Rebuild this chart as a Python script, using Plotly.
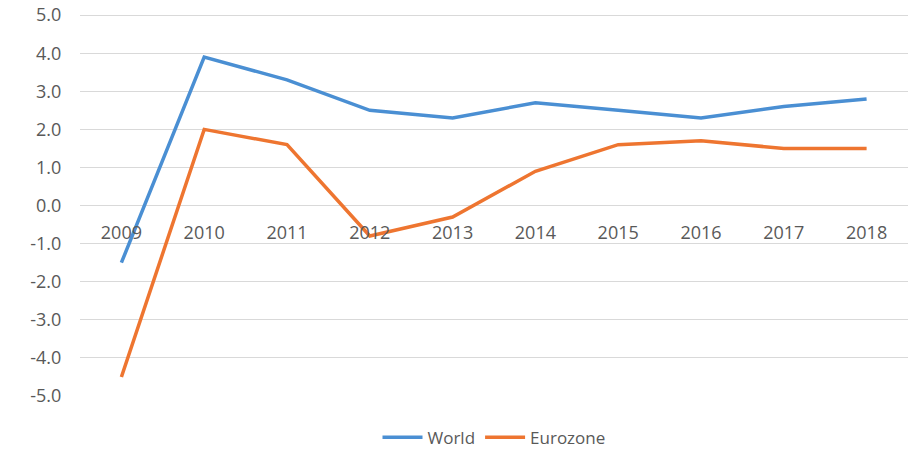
import plotly.graph_objects as go

years = ["2009", "2010", "2011", "2012", "2013", "2014", "2015", "2016", "2017", "2018"]
world = [-1.5, 3.9, 3.3, 2.5, 2.3, 2.7, 2.5, 2.3, 2.6, 2.8]
eurozone = [-4.5, 2.0, 1.6, -0.8, -0.3, 0.9, 1.6, 1.7, 1.5, 1.5]
y_ticks = [5, 4, 3, 2, 1, 0, -1, -2, -3, -4, -5]

fig = go.Figure()
fig.add_trace(go.Scatter(x=years, y=world, mode="lines", name="World",
                         line=dict(color="#4A8FD3", width=3.5)))
fig.add_trace(go.Scatter(x=years, y=eurozone, mode="lines", name="Eurozone",
                         line=dict(color="#EE7530", width=3.5)))

font_family = "Open Sans, Liberation Sans, sans-serif"
fig.update_layout(
    width=920, height=449,
    margin=dict(l=80, r=12, t=14, b=53, autoexpand=False),
    paper_bgcolor="white", plot_bgcolor="white",
    font=dict(family=font_family, size=18, color="#595959"),
    showlegend=True,
    legend=dict(orientation="h", x=0.5, xanchor="center", y=-0.062, yanchor="top",
                font=dict(size=17, color="#595959"), itemwidth=40,
                tracegroupgap=0),
    xaxis=dict(type="category", range=[-0.5, 9.5], anchor="free", position=0.4985,
               showgrid=False, showline=False, zeroline=False, automargin=False,
               ticks="outside", ticklen=11, tickcolor="rgba(0,0,0,0)",
               tickfont=dict(size=18, color="#595959")),
    yaxis=dict(range=[-5, 5.03], tickvals=y_ticks, automargin=False,
               ticktext=[f"{v:.1f}" for v in y_ticks],
               ticklabeloverflow="allow",
               showgrid=True, gridcolor="#D9D9D9", gridwidth=1,
               zeroline=False, showline=False,
               ticks="outside", ticklen=14, tickcolor="rgba(0,0,0,0)",
               tickfont=dict(size=18, color="#595959")),
)
fig.write_html("out.html", config={"displayModeBar": False},
               post_script="document.body.style.margin='0';document.body.style.padding='0';")
